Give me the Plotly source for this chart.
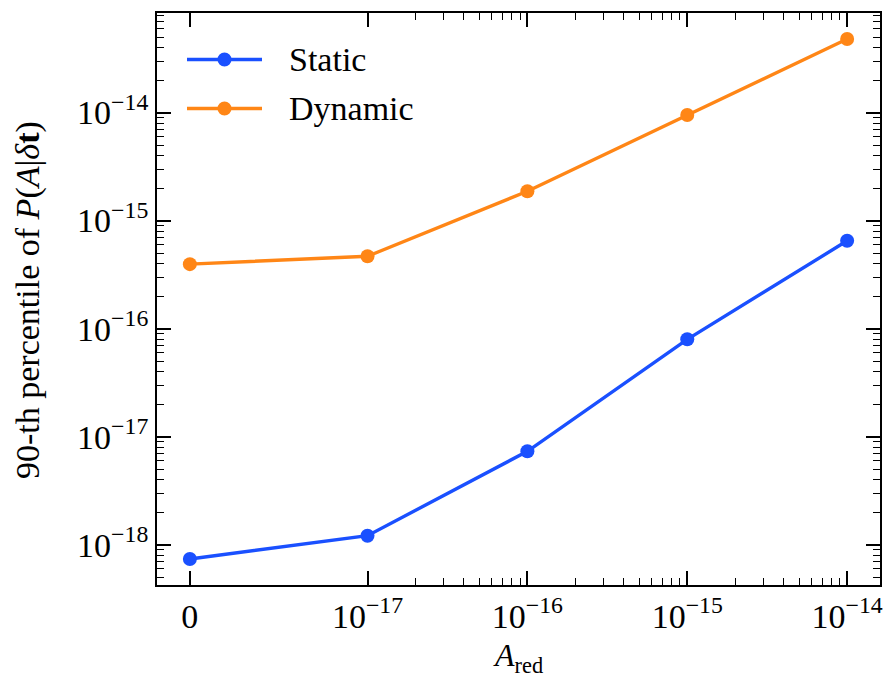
import math
import plotly.graph_objects as go

# Red-noise amplitude values (x) and 90th-percentile posteriors (y)
a_red = [0.0, 1e-17, 1e-16, 1e-15, 1e-14]
static_p90 = [7.36e-19, 1.21e-18, 7.31e-18, 7.96e-17, 6.5e-16]
dynamic_p90 = [3.95e-16, 4.68e-16, 1.87e-15, 9.5e-15, 4.8e-14]
x_tick_values = [0.0, 1e-17, 1e-16, 1e-15, 1e-14]
x_tick_labels = ["0", "10<sup>\u221217</sup>", "10<sup>\u221216</sup>",
                 "10<sup>\u221215</sup>", "10<sup>\u221214</sup>"]
y_tick_values = [1e-18, 1e-17, 1e-16, 1e-15, 1e-14]
y_tick_labels = ["10<sup>\u221218</sup>", "10<sup>\u221217</sup>", "10<sup>\u221216</sup>",
                 "10<sup>\u221215</sup>", "10<sup>\u221214</sup>"]

BLUE = "#1a50ff"
ORANGE = "#ff8616"
FONT = "Liberation Serif"
FS = 34

# symmetric-log scale (linear below the threshold, log above)
LINTHRESH = 1e-17
LINSCALE = 1.0
LIN_ADJ = LINSCALE / (1.0 - 1.0 / 10.0)


def symlog(v):
    a = abs(v)
    s = 1 if v >= 0 else -1
    if a <= LINTHRESH:
        return s * a * LIN_ADJ / LINTHRESH
    return s * (LIN_ADJ + math.log10(a / LINTHRESH))


xs = [symlog(v) for v in a_red]
x_major = [symlog(v) for v in x_tick_values]
x_minor = [symlog(m * 10.0 ** d) for d in range(-17, -14) for m in range(2, 10)]

# axis ranges with 5% padding around the data
x_span = max(xs) - min(xs)
x_range = [min(xs) - 0.05 * x_span, max(xs) + 0.05 * x_span]
all_y = static_p90 + dynamic_p90
lo, hi = math.log10(min(all_y)), math.log10(max(all_y))
y_range = [lo - 0.05 * (hi - lo), hi + 0.05 * (hi - lo)]
y_minor = [m * 10.0 ** d for d in range(-19, -12) for m in range(2, 10)]

fig = go.Figure()
for name, vals, col in [("Static", static_p90, BLUE), ("Dynamic", dynamic_p90, ORANGE)]:
    fig.add_trace(go.Scatter(
        x=xs, y=vals, mode="lines+markers", name=name, showlegend=False,
        line=dict(color=col, width=3.4),
        marker=dict(color=col, size=14, line=dict(width=0)),
    ))

axis_common = dict(
    showline=True, linecolor="black", linewidth=1.8, mirror="allticks",
    ticks="inside", ticklen=14, tickwidth=1.6, tickcolor="black",
    showgrid=False, zeroline=False, automargin=False,
    tickfont=dict(family=FONT, size=FS, color="black"),
)

fig.update_xaxes(
    **axis_common,
    range=x_range, tickmode="array", tickvals=x_major, ticktext=x_tick_labels,
    minor=dict(tickmode="array", tickvals=x_minor, ticks="inside", ticklen=7,
               tickwidth=1.3, tickcolor="black", showgrid=False),
)
fig.update_yaxes(
    **axis_common,
    type="log", range=y_range, tickmode="array",
    tickvals=y_tick_values, ticktext=y_tick_labels,
    minor=dict(tickmode="array", tickvals=y_minor, ticks="inside", ticklen=7,
               tickwidth=1.3, tickcolor="black", showgrid=False),
)

# plot-area geometry in pixels
L, R, T, B = 157, 880, 13, 585
W, H = 883, 675


def px(xp):
    return (xp - L) / (R - L)


def py(yp):
    return (B - yp) / (B - T)


# axis titles
fig.add_annotation(x=px(28), y=py(300), xref="paper", yref="paper",
                   text="90-th percentile of <i>P</i>(<i>A</i>|<i>\u03b4</i><b>t</b>)",
                   textangle=-90, showarrow=False, xanchor="center", yanchor="middle",
                   font=dict(family=FONT, size=FS, color="black"))
fig.add_annotation(x=px(518), y=py(657), xref="paper", yref="paper",
                   text="<i>A</i><sub>red</sub>",
                   showarrow=False, xanchor="center", yanchor="middle",
                   font=dict(family=FONT, size=32, color="black"))

# legend drawn inside the axes, upper left
for label, col, ypx in [("Static", BLUE, 59.5), ("Dynamic", ORANGE, 108.5)]:
    fig.add_shape(type="line", xref="paper", yref="paper",
                  x0=px(187), x1=px(262), y0=py(ypx), y1=py(ypx),
                  line=dict(color=col, width=3.4))
    fig.add_shape(type="circle", xref="paper", yref="paper",
                  xsizemode="pixel", ysizemode="pixel",
                  xanchor=px(224.5), yanchor=py(ypx), x0=-7, x1=7, y0=-7, y1=7,
                  fillcolor=col, line=dict(width=0))
    fig.add_annotation(x=px(287), y=py(ypx), xref="paper", yref="paper",
                       text=label, showarrow=False, xanchor="left", yanchor="middle",
                       font=dict(family=FONT, size=FS, color="black"))

fig.update_layout(
    width=W, height=H,
    margin=dict(l=L, r=W - R, t=T, b=H - B),
    plot_bgcolor="white", paper_bgcolor="white",
    font=dict(family=FONT, color="black"),
)

fig.write_html("out.html")
